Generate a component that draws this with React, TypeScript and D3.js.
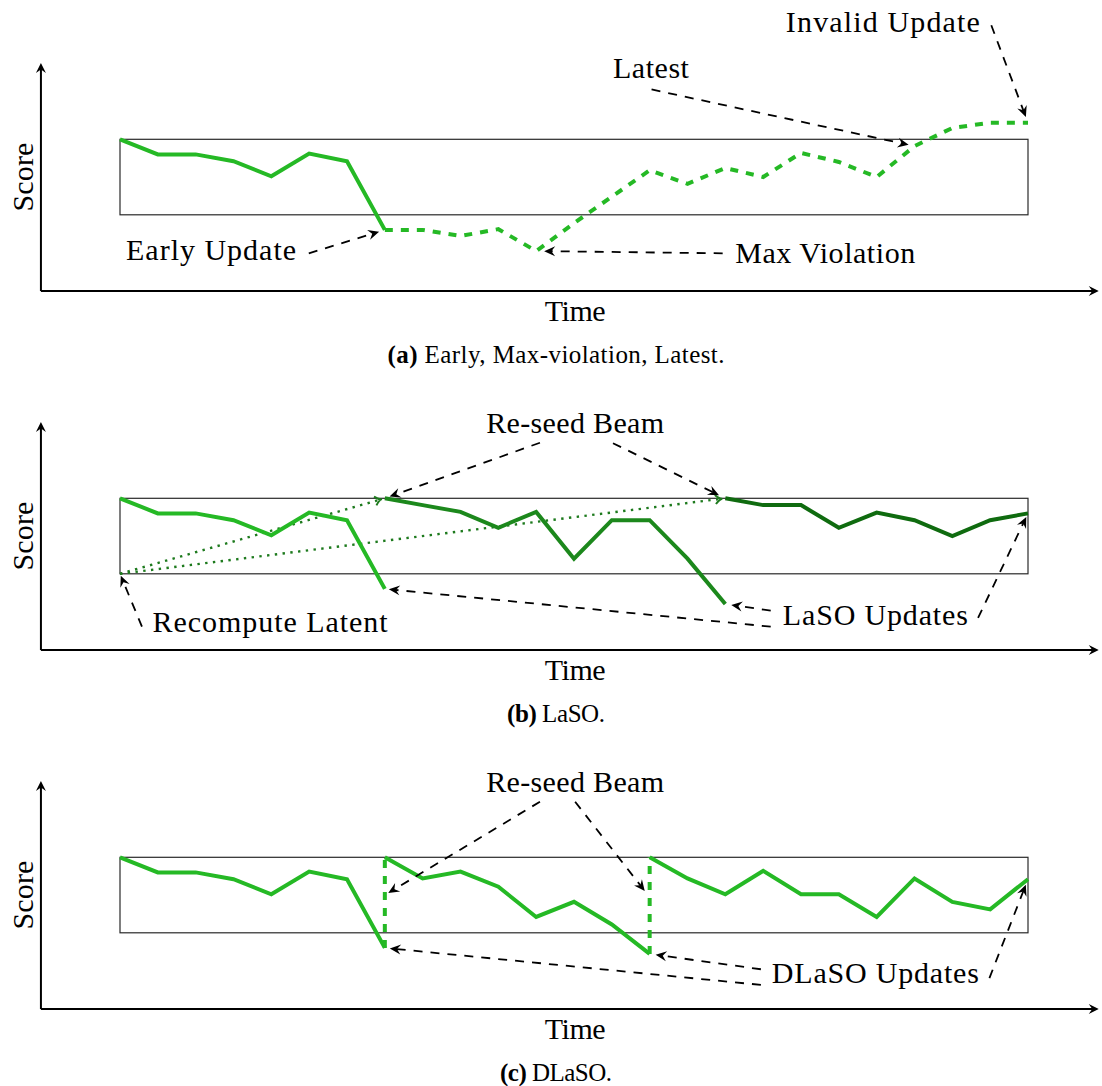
import React from "react";
import * as d3 from "d3";

const W = 1102;
const H = 1086;

// Score trajectory shared by all three searches, time steps 0..7
const openingScores = [10, 8, 8, 7.1, 5.1, 8.1, 7.1, -2];
// (a) search continued past the first violation, time steps 7..24
const continuedScores = [-2, -2, -2.8, -1.9, -4.8, -1.1, 2.4, 5.9, 4.1, 6.2, 5, 8.2, 7, 5, 9.1, 11.5, 12.2, 12.2];
// (b) LaSO: beam re-seeded at steps 7 and 16
const lasoSecondScores = [10, 9.1, 8.2, 6.1, 8.2, 2, 7.1, 7.1, 2, -4];
const lasoThirdScores = [10, 9.1, 9.1, 6.1, 8.1, 7.1, 5, 7.1, 8];
// (c) DLaSO: beam re-seeded at steps 7 and 14
const dlasoSecondScores = [10, 7.2, 8.1, 6.1, 2.1, 4.1, 1.1, -2.8];
const dlasoThirdScores = [10, 7.2, 5.1, 8.2, 5.1, 5.1, 2.1, 7.2, 4.1, 3.1, 7.1];

const captions = ["(a)", "(b)", "(c)"];
const captionTexts = [" Early, Max-violation, Latest.", " LaSO.", " DLaSO."];

const BEAM = [0, 10];
const LAST_STEP = 24;
const AXIS_TIME = [-2.09, 25.87];
const AXIS_SCORE = [-10.1, 20.1];

const FONT = "'Liberation Serif', 'Times New Roman', serif";
const LABEL_SIZE = 30;
const BRIGHT = "#25b925";
const MID = "#1c881c";
const DARK = "#0f6b0f";
const DOTTED = "#1d7a1d";

type Pt = [number, number];
const seg = (start: number, values: number[]): Pt[] => values.map((v, i) => [start + i, v] as Pt);

type Line = { pts: Pt[]; color: string; dash?: string };
type Note = { text: string; at: Pt; width: number; anchor?: "start" | "middle" };
type Pointer = { from: Pt; to: Pt; gap: number };
type Panel = {
  lines: Line[];
  dotted: Pointer[];
  notes: Note[];
  pointers: Pointer[];
  captionWidth: number;
};

const panels: Panel[] = [
  {
    lines: [
      { pts: seg(0, openingScores), color: BRIGHT },
      { pts: seg(7, continuedScores), color: BRIGHT, dash: "8 8" },
    ],
    dotted: [],
    notes: [
      { text: "Early Update", at: [0.16, -6.0], width: 170 },
      { text: "Max Violation", at: [16.26, -6.4], width: 180 },
      { text: "Latest", at: [13.03, 18.1], width: 76 },
      { text: "Invalid Update", at: [17.6, 24.25], width: 194 },
    ],
    pointers: [
      { from: [4.99, -5.1], to: [7, openingScores[7]], gap: 6 },
      { from: [15.93, -5.1], to: [11, continuedScores[4]], gap: 8 },
      { from: [14.05, 16.6], to: [21, continuedScores[14]], gap: 6 },
      { from: [23.03, 25.1], to: [24, continuedScores[17]], gap: 6 },
    ],
    captionWidth: 337,
  },
  {
    lines: [
      { pts: seg(0, openingScores), color: BRIGHT },
      { pts: seg(7, lasoSecondScores), color: MID },
      { pts: seg(16, lasoThirdScores), color: DARK },
    ],
    dotted: [
      { from: [0, 0], to: [7, 10], gap: 3 },
      { from: [0, 0], to: [16, 10], gap: 3 },
    ],
    notes: [
      { text: "Re-seed Beam", at: [12.03, 18.64], width: 178, anchor: "middle" },
      { text: "Recompute Latent", at: [0.86, -7.67], width: 235 },
      { text: "LaSO Updates", at: [17.52, -6.78], width: 185 },
    ],
    pointers: [
      { from: [11.1, 17.36], to: [7, 10], gap: 5 },
      { from: [13.03, 17.3], to: [16, 10], gap: 7 },
      { from: [0.58, -7.0], to: [0, 0], gap: 2 },
      { from: [17.2, -4.89], to: [16, lasoSecondScores[9]], gap: 6 },
      { from: [17.2, -7.0], to: [7, openingScores[7]], gap: 4 },
      { from: [22.68, -5.85], to: [24, lasoThirdScores[8]], gap: 4 },
    ],
    captionWidth: 98,
  },
  {
    lines: [
      { pts: seg(0, openingScores), color: BRIGHT },
      { pts: [[7, openingScores[7]], [7, dlasoSecondScores[0]]], color: BRIGHT, dash: "8 8" },
      { pts: seg(7, dlasoSecondScores), color: BRIGHT },
      { pts: [[14, dlasoSecondScores[7]], [14, dlasoThirdScores[0]]], color: BRIGHT, dash: "8 8" },
      { pts: seg(14, dlasoThirdScores), color: BRIGHT },
    ],
    dotted: [],
    notes: [
      { text: "Re-seed Beam", at: [12.03, 18.67], width: 178, anchor: "middle" },
      { text: "DLaSO Updates", at: [17.23, -6.69], width: 207 },
    ],
    pointers: [
      { from: [11.1, 17.36], to: [7, 5], gap: 4 },
      { from: [12.03, 17.36], to: [14, 4.7], gap: 8 },
      { from: [16.94, -4.83], to: [14, dlasoSecondScores[7]], gap: 6 },
      { from: [16.94, -6.9], to: [7, openingScores[7]], gap: 5 },
      { from: [22.98, -6.0], to: [24, dlasoThirdScores[10]], gap: 6 },
    ],
    captionWidth: 112,
  },
];

const PANEL_STEP = 359;
const BOX_TOP = 139.3;
const BOX_BOTTOM = 214.8;

const x = d3.scaleLinear().domain([0, LAST_STEP]).range([120, 1028]);

// arrow geometry helpers
function headPath(tip: Pt, u: Pt, len: number, half: number, notch: number) {
  const n: Pt = [-u[1], u[0]];
  const bx = tip[0] - len * u[0];
  const by = tip[1] - len * u[1];
  const p1: Pt = [bx + half * n[0], by + half * n[1]];
  const p2: Pt = [bx - half * n[0], by - half * n[1]];
  const m: Pt = [tip[0] - (len - notch) * u[0], tip[1] - (len - notch) * u[1]];
  return `M${tip[0]},${tip[1]}L${p1[0]},${p1[1]}L${m[0]},${m[1]}L${p2[0]},${p2[1]}Z`;
}

function resolve(from: Pt, target: Pt, gap: number) {
  const dx = target[0] - from[0];
  const dy = target[1] - from[1];
  const l = Math.hypot(dx, dy);
  const u: Pt = [dx / l, dy / l];
  const tip: Pt = [target[0] - u[0] * gap, target[1] - u[1] * gap];
  return { u, tip };
}

function PanelView({ p, k }: { p: Panel; k: number }) {
  const off = k * PANEL_STEP;
  const y = d3.scaleLinear().domain(BEAM).range([BOX_BOTTOM + off, BOX_TOP + off]);
  const line = d3
    .line<Pt>()
    .x((d) => x(d[0]))
    .y((d) => y(d[1]));
  const px = (d: Pt): Pt => [x(d[0]), y(d[1])];

  const ax0 = x(AXIS_TIME[0]);
  const ax1 = x(AXIS_TIME[1]);
  const ay0 = y(AXIS_SCORE[0]);
  const ay1 = y(AXIS_SCORE[1]);

  return (
    <g>
      {/* beam box */}
      <rect
        x={x(0)}
        y={y(BEAM[1])}
        width={x(LAST_STEP) - x(0)}
        height={y(BEAM[0]) - y(BEAM[1])}
        fill="none"
        stroke="#2a2a2a"
        strokeWidth={1.2}
      />
      {/* axes */}
      <line x1={ax0} y1={ay0} x2={ax1 - 6} y2={ay0} stroke="#000" strokeWidth={2} />
      <line x1={ax0} y1={ay0} x2={ax0} y2={ay1 + 6} stroke="#000" strokeWidth={2} />
      <path d={headPath([ax1, ay0], [1, 0], 10, 5, 3.5)} fill="#000" />
      <path d={headPath([ax0, ay1], [0, -1], 10, 5, 3.5)} fill="#000" />
      <text
        x={x(12.03)}
        y={ay0 + 30}
        fontFamily={FONT}
        fontSize={LABEL_SIZE}
        textAnchor="middle"
        textLength={61}
        lengthAdjust="spacing"
      >
        Time
      </text>
      <text
        transform={`translate(${ax0 - 8},${y(5)}) rotate(-90)`}
        fontFamily={FONT}
        fontSize={LABEL_SIZE}
        textAnchor="middle"
        textLength={69}
        lengthAdjust="spacing"
      >
        Score
      </text>

      {/* dotted re-seed links */}
      {p.dotted.map((d, i) => {
        const from = px(d.from);
        const { u, tip } = resolve(from, px(d.to), d.gap);
        const n: Pt = [-u[1], u[0]];
        const b: Pt = [tip[0] - 7 * u[0], tip[1] - 7 * u[1]];
        return (
          <g key={`dot${i}`}>
            <line
              x1={from[0]}
              y1={from[1]}
              x2={tip[0]}
              y2={tip[1]}
              stroke={DOTTED}
              strokeWidth={2.4}
              strokeDasharray="2.4 5.4"
            />
            <path
              d={`M${b[0] + 4.5 * n[0]},${b[1] + 4.5 * n[1]}Q${tip[0] - 3 * u[0]},${tip[1] - 3 * u[1]} ${tip[0]},${tip[1]}Q${tip[0] - 3 * u[0]},${tip[1] - 3 * u[1]} ${b[0] - 4.5 * n[0]},${b[1] - 4.5 * n[1]}`}
              fill="none"
              stroke={DOTTED}
              strokeWidth={2}
            />
          </g>
        );
      })}

      {/* score trajectories */}
      {p.lines.map((l, i) => (
        <path
          key={`l${i}`}
          d={line(l.pts) || ""}
          fill="none"
          stroke={l.color}
          strokeWidth={4}
          strokeDasharray={l.dash}
        />
      ))}

      {/* annotation pointers */}
      {p.pointers.map((a, i) => {
        const from = px(a.from);
        const { u, tip } = resolve(from, px(a.to), a.gap);
        const end: Pt = [tip[0] - 6 * u[0], tip[1] - 6 * u[1]];
        return (
          <g key={`a${i}`}>
            <line
              x1={from[0]}
              y1={from[1]}
              x2={end[0]}
              y2={end[1]}
              stroke="#000"
              strokeWidth={1.8}
              strokeDasharray="9 8"
            />
            <path d={headPath(tip, u, 11, 5, 3.8)} fill="#000" />
          </g>
        );
      })}

      {/* annotation labels */}
      {p.notes.map((n, i) => (
        <text
          key={`n${i}`}
          x={x(n.at[0])}
          y={y(n.at[1])}
          fontFamily={FONT}
          fontSize={LABEL_SIZE}
          textAnchor={n.anchor || "start"}
          textLength={n.width}
          lengthAdjust="spacing"
        >
          {n.text}
        </text>
      ))}

      {/* sub-caption */}
      <text
        x={556}
        y={363 + off}
        fontFamily={FONT}
        fontSize={25}
        textAnchor="middle"
        textLength={p.captionWidth}
        lengthAdjust="spacing"
      >
        <tspan fontWeight="bold">{captions[k]}</tspan>
        {captionTexts[k]}
      </text>
    </g>
  );
}

export default function App() {
  return (
    <svg
      width={W}
      height={H}
      viewBox={`0 0 ${W} ${H}`}
      style={{ position: "absolute", left: 0, top: 0, display: "block", background: "#fff" }}
    >
      <rect width={W} height={H} fill="#fff" />
      {panels.map((p, k) => (
        <PanelView key={k} p={p} k={k} />
      ))}
    </svg>
  );
}
